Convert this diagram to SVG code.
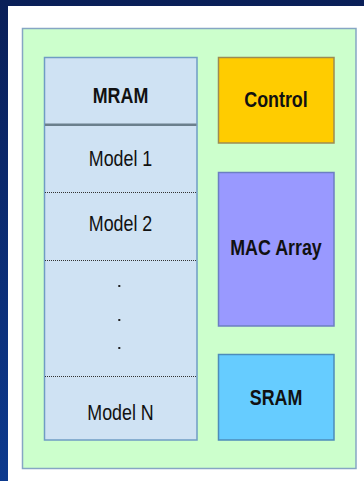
<svg xmlns="http://www.w3.org/2000/svg" width="364" height="481" viewBox="0 0 364 481">
  <defs>
    <linearGradient id="frameGrad" x1="0" y1="0" x2="0" y2="1">
      <stop offset="0" stop-color="#0a1f58"/>
      <stop offset="1" stop-color="#0d3a8e"/>
    </linearGradient>
  </defs>
  <style>
    .lbl { font-family: "Liberation Sans", Arial, sans-serif; font-size: 21.5px; fill: #111111; text-anchor: middle; }
    .bold { font-weight: bold; }
    .box { stroke-width: 1.5; }
    .sep { stroke: #333333; stroke-width: 1; stroke-dasharray: 1 1; fill: none; }
    .dot { fill: #222222; }
  </style>

  <!-- page frame -->
  <rect x="0" y="0" width="364" height="481" fill="url(#frameGrad)"/>
  <rect x="8" y="6" width="356" height="475" fill="#ffffff"/>

  <!-- chip outline -->
  <g id="chip">
    <rect x="22.5" y="28.5" width="333.5" height="440" fill="#ccffcc" stroke="#86a6c4" class="box"/>
  </g>

  <!-- memory stack -->
  <g id="mram">
    <rect x="44.5" y="57.5" width="152.5" height="382.5" fill="#cfe2f3" stroke="#6f9cc4" class="box"/>
    <line x1="45" y1="124.8" x2="196.5" y2="124.8" stroke="#6b7f8c" stroke-width="2.6"/>
    <text class="lbl bold" transform="translate(120.5,102.5) scale(0.83,1)">MRAM</text>
  </g>
  <g id="model1">
    <text class="lbl" transform="translate(120.5,166) scale(0.83,1)">Model 1</text>
    <line class="sep" x1="45" y1="192.5" x2="196.5" y2="192.5"/>
  </g>
  <g id="model2">
    <text class="lbl" transform="translate(120.5,230.5) scale(0.83,1)">Model 2</text>
    <line class="sep" x1="45" y1="260.5" x2="196.5" y2="260.5"/>
  </g>
  <g id="ellipsis">
    <rect class="dot" x="118.3" y="285" width="2" height="2"/>
    <rect class="dot" x="118.3" y="319" width="2" height="2"/>
    <rect class="dot" x="118.3" y="347" width="2" height="2"/>
  </g>
  <g id="modelN">
    <line class="sep" x1="45" y1="376.5" x2="196.5" y2="376.5"/>
    <text class="lbl" transform="translate(120.5,420) scale(0.83,1)">Model N</text>
  </g>

  <!-- compute side -->
  <g id="control">
    <rect x="218.5" y="57.5" width="115.5" height="85.5" fill="#ffcc00" stroke="#9c8c52" class="box"/>
    <text class="lbl bold" transform="translate(276,107) scale(0.83,1)">Control</text>
  </g>
  <g id="mac-array">
    <rect x="218.5" y="172.5" width="115.5" height="153.5" fill="#9999ff" stroke="#6c7fc2" class="box"/>
    <text class="lbl bold" transform="translate(276,255) scale(0.83,1)">MAC Array</text>
  </g>
  <g id="sram">
    <rect x="218.5" y="354.5" width="115.5" height="85.5" fill="#66ccff" stroke="#4d8cba" class="box"/>
    <text class="lbl bold" transform="translate(276,405) scale(0.83,1)">SRAM</text>
  </g>

  <g id="connectors"/>
</svg>
